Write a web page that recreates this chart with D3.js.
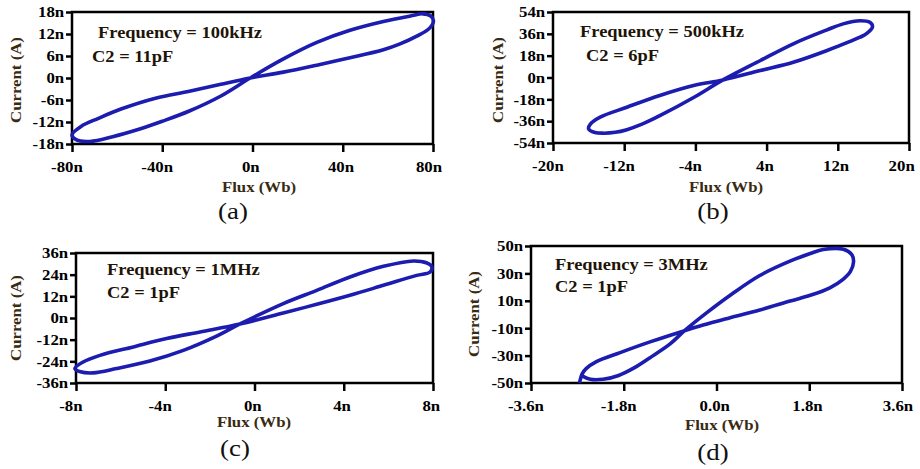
<!DOCTYPE html>
<html>
<head>
<meta charset="utf-8">
<script src="https://cdn.jsdelivr.net/npm/d3@7"></script>
<style>
  body { margin: 0; background: #fff; }
  svg { display: block; }
</style>
</head>
<body>
<svg id="chart" width="920" height="469"></svg>
<script>
// Flux (nWb), current (nA) pairs
const loopA = [
  [-1, 0], [13.7, 5.2], [28.5, 9.7], [43.2, 13.0], [58, 15.4], [70, 16.9], [75.5, 17.5],
  [79, 16.9], [80.2, 15.6], [78.5, 13.6], [72.8, 11.4], [65.4, 9.3], [58, 7.7], [43.2, 5.5],
  [28.5, 3.5], [13.7, 1.6], [-1, 0], [-14, -1.7], [-28, -3.6], [-43, -5.5], [-58, -8.4],
  [-68.3, -11.0], [-76, -13.2], [-80, -15.5], [-78, -16.9], [-72, -17.3], [-62, -16.0],
  [-50, -13.9], [-40, -11.8], [-28, -9.0], [-14, -4.9]
];
const loopB = [
  [-0.9, -2], [3.3, 14], [7.0, 27.8], [10.8, 39.3], [12.6, 44.2], [14.5, 46.8], [15.6, 45.5],
  [15.9, 42], [15.3, 36.5], [14.5, 33.2], [10.8, 22.3], [7.0, 12.6], [3.3, 5.8], [-0.9, -2],
  [-4.2, -6.6], [-8.0, -14.8], [-11.7, -24.5], [-14.7, -32.7], [-15.8, -38.5], [-16.0, -42.3],
  [-15.3, -45.3], [-14.3, -45.9], [-13.0, -45.2], [-11.7, -43.0], [-10.0, -38.5], [-8.0, -31.5],
  [-4.2, -16.5]
];
const loopC = [
  [-0.65, -3.3], [1.29, 8.0], [2.79, 15.3], [4.28, 22.7], [5.78, 28.6], [7.12, 31.6],
  [7.7, 30.6], [7.95, 28.3], [7.87, 25.5], [7.27, 23.6], [5.78, 18.1], [4.28, 12.6],
  [2.79, 7.6], [1.29, 2.8], [-0.65, -3.3], [-2.44, -7.7], [-3.94, -11.4], [-5.43, -16.0],
  [-6.93, -20.7], [-7.7, -24.5], [-8.05, -28], [-7.8, -29.8], [-7.23, -30.4], [-6.18, -28.0],
  [-4.69, -23.8], [-3.19, -17.9], [-1.7, -10.0]
];
// 3MHz trace is open: it starts at the bottom edge
const loopD = [
  [-2.66, -50], [-2.64, -47], [-2.61, -43.5], [-2.53, -39.5], [-2.33, -34.4], [-1.87, -27.8],
  [-1.29, -20.0], [-0.62, -11.8], [-0.26, -7.7], [0.25, -2.5], [0.84, 3.3], [1.43, 9.8],
  [1.82, 14.0], [2.2, 19.5], [2.45, 25.5], [2.6, 31.5], [2.66, 38.5], [2.63, 43.4], [2.46, 47.6],
  [2.07, 47.4], [1.82, 44.5], [1.46, 39.5], [0.84, 28.5], [0.3, 15], [-0.2, 1], [-0.62, -11.8],
  [-0.9, -21.5], [-1.29, -31.5], [-1.6, -39], [-1.9, -44.5], [-2.2, -47.3], [-2.45, -47.3],
  [-2.6, -45]
];

const xTicksA = [-80, -40, 0, 40, 80];
const yTicksA = [-18, -12, -6, 0, 6, 12, 18];
const xTicksB = [-20, -12, -4, 4, 12, 20];
const yTicksB = [-54, -36, -18, 0, 18, 36, 54];
const xTicksC = [-8, -4, 0, 4, 8];
const yTicksC = [-36, -24, -12, 0, 12, 24, 36];
const xTicksD = [-3.6, -1.8, 0, 1.8, 3.6];
const yTicksD = [-50, -30, -10, 10, 30, 50];

const frequencies = ["Frequency = 100kHz", "Frequency = 500kHz", "Frequency = 1MHz", "Frequency = 3MHz"];
const capacitors = ["C2 = 11pF", "C2 = 6pF", "C2 = 1pF", "C2 = 1pF"];
const tags = ["(a)", "(b)", "(c)", "(d)"];

const colors = {
  loop: "#1c1cb0",
  axis: "#000",
  title: "#3a2a12",
  note: "#1e1408",
};
const serif = "'Liberation Serif', 'Times New Roman', serif";
const stretch = 1.12; // the figure text is a bit wider than plain Times

// layout of each panel (pixel boxes and label anchors)
const panels = [
  { loop: loopA, closed: true, xTicks: xTicksA, yTicks: yTicksA, fmt: (d) => d + "n",
    box: [72, 12, 433, 144], freqAt: [98, 38], capAt: [92, 62], lastTickShift: -4,
    xTitleAt: [259, 192], yTitleAt: [16, 80], tagAt: [233, 219] },
  { loop: loopB, closed: true, xTicks: xTicksB, yTicks: yTicksB, fmt: (d) => d + "n",
    box: [553, 12, 909, 143], freqAt: [580, 37], capAt: [586, 61], lastTickShift: -7,
    xTitleAt: [726, 192], yTitleAt: [498, 80], tagAt: [713, 219] },
  { loop: loopC, closed: true, xTicks: xTicksC, yTicks: yTicksC, fmt: (d) => d + "n",
    box: [76, 253, 433, 383], freqAt: [107, 275], capAt: [107, 298], lastTickShift: -2,
    xTitleAt: [254, 427], yTitleAt: [16, 318], tagAt: [235, 456] },
  { loop: loopD, closed: false, xTicks: xTicksD, yTicks: yTicksD, fmt: (d) => d.toFixed(1) + "n",
    box: [531, 246, 902, 383], freqAt: [555, 270], capAt: [555, 292], lastTickShift: -4,
    xTitleAt: [722, 430], yTitleAt: [474, 314], tagAt: [713, 460] },
];

const svg = d3.select("#chart");

panels.forEach((p, i) => drawPanel(p, i));

function drawPanel(p, i) {
  const [left, top, right, bottom] = p.box;
  const x = d3.scaleLinear().domain(d3.extent(p.xTicks)).range([left, right]);
  const y = d3.scaleLinear().domain(d3.extent(p.yTicks)).range([bottom, top]);
  const g = svg.append("g");

  g.append("rect")
    .attr("x", left)
    .attr("y", top)
    .attr("width", right - left)
    .attr("height", bottom - top)
    .attr("fill", "none")
    .attr("stroke", colors.axis)
    .attr("stroke-width", 2.5);

  const line = d3
    .line()
    .x((d) => x(d[0]))
    .y((d) => y(d[1]))
    .curve(p.closed ? d3.curveCatmullRomClosed : d3.curveCatmullRom);

  g.append("path")
    .datum(p.loop)
    .attr("d", line)
    .attr("fill", "none")
    .attr("stroke", colors.loop)
    .attr("stroke-width", 3.6)
    .attr("stroke-linejoin", "round");

  const xAxis = g
    .append("g")
    .attr("transform", `translate(0,${bottom})`)
    .call(d3.axisBottom(x).tickValues(p.xTicks).tickFormat(p.fmt).tickSize(8).tickPadding(9))
    .call(styleAxis);

  // flux labels sit a little left of their ticks, more so with a minus sign
  xAxis.selectAll(".tick text").attr("x", (d) => (d < 0 ? -5 : -2));
  xAxis.selectAll(".tick:last-of-type text").attr("x", p.lastTickShift);

  g.append("g")
    .attr("transform", `translate(${left},0)`)
    .call(d3.axisLeft(y).tickValues(p.yTicks).tickFormat((d) => d + "n").tickSize(6).tickPadding(1))
    .call(styleAxis);

  addText(g, "Flux (Wb)", p.xTitleAt, 15, "bold", colors.title, "middle");
  addText(g, "Current (A)", p.yTitleAt, 15, "bold", colors.title, "middle", -90);
  addText(g, frequencies[i], p.freqAt, 16.5, "bold", colors.note, "start");
  addText(g, capacitors[i], p.capAt, 16.5, "bold", colors.note, "start");
  addText(g, tags[i], p.tagAt, 24, "normal", "#111", "middle");
}

function styleAxis(sel) {
  sel.select(".domain").remove();
  sel.selectAll(".tick line").attr("stroke", colors.axis).attr("stroke-width", 2.5);
  sel.selectAll(".tick text")
    .attr("fill", colors.axis)
    .attr("font-family", serif)
    .attr("font-weight", "bold")
    .attr("font-size", 15)
    .attr("transform", `scale(${stretch},1)`);
}

function addText(g, str, at, size, weight, fill, anchor, rotate = 0) {
  g.append("text")
    .attr("transform", `translate(${at[0]},${at[1]}) rotate(${rotate}) scale(${stretch},1)`)
    .attr("text-anchor", anchor)
    .attr("dy", rotate ? "0.35em" : null)
    .attr("font-family", serif)
    .attr("font-weight", weight)
    .attr("font-size", size)
    .attr("fill", fill)
    .text(str);
}
</script>
</body>
</html>
